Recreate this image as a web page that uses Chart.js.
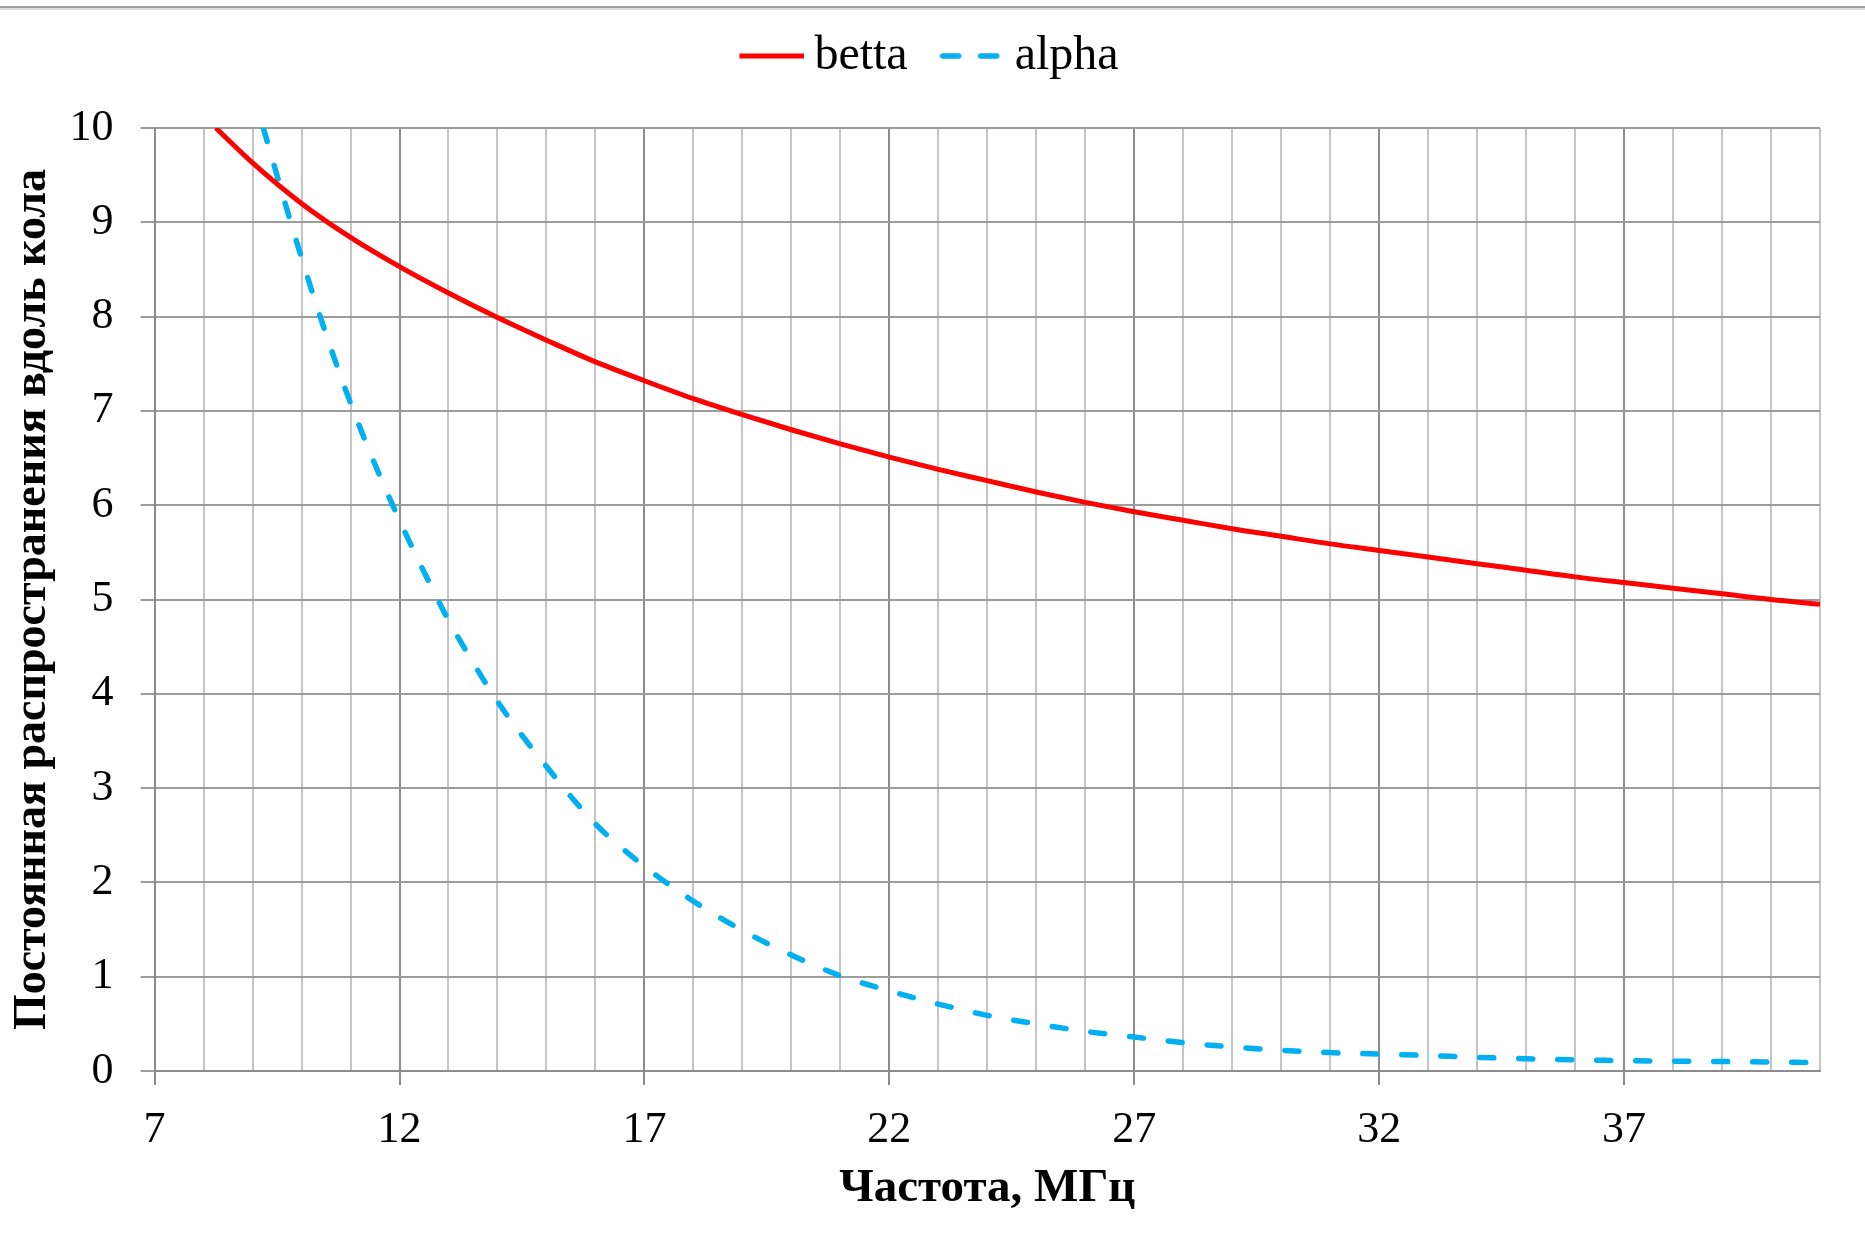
<!DOCTYPE html>
<html>
<head>
<meta charset="utf-8">
<title>betta / alpha</title>
<script src="https://cdn.jsdelivr.net/npm/chart.js@4.4.1/dist/chart.umd.min.js"></script>
<style>
    body { margin: 0; background: #fff; }
    #wrap { position: relative; width: 1865px; height: 1246px; }
    .rule { position: absolute; left: 0; top: 6px; width: 1865px; height: 2px; background: #a0a0a0; }
    .rule2 { position: absolute; left: 0; top: 8px; width: 1865px; height: 2px; background: #e0e0e0; }
</style>
</head>
<body>
<div id="wrap">
    <canvas id="chart" width="1865" height="1246"></canvas>
    <div class="rule"></div>
    <div class="rule2"></div>
</div>
<script>
// x axis: frequency, MHz
const X_MIN = 7;
const X_MAX = 41;
const Y_MIN = 0;
const Y_MAX = 10;

// betta (red, solid)
const freqBetta = [8.25, 9, 10, 11, 12, 13, 14, 15, 16, 17, 18, 19, 20, 21, 22, 23, 24, 25,
                   26, 27, 28, 29, 30, 31, 32, 33, 34, 35, 36, 37, 38, 39, 40, 41];
const betta = [10.0, 9.63, 9.20, 8.84, 8.53, 8.25, 7.99, 7.75, 7.52, 7.32, 7.13, 6.96, 6.80, 6.65, 6.51, 6.38, 6.26, 6.14,
               6.03, 5.93, 5.84, 5.75, 5.67, 5.59, 5.52, 5.45, 5.38, 5.31, 5.24, 5.18, 5.12, 5.06, 5.00, 4.95];

// alpha (blue, dashed)
const freqAlpha = [9.22, 9.78, 10.38, 11.06, 11.86, 12.78, 13, 14, 15, 16, 17, 18, 19, 20, 21, 22, 23, 24, 25,
                   26, 27, 28, 29, 30, 31, 32, 33, 34, 35, 37, 39, 41];
const alpha = [10, 9, 8, 7, 6, 5, 4.78, 3.92, 3.23, 2.62, 2.17, 1.80, 1.49, 1.23, 1.01, 0.85, 0.71, 0.59, 0.50,
               0.42, 0.36, 0.30, 0.255, 0.22, 0.195, 0.18, 0.165, 0.145, 0.13, 0.11, 0.10, 0.09];

const FONT = "'Liberation Serif', 'Times New Roman', serif";
const MAJOR = '#8c8c8c';
const MINOR = '#c4c4c4';
const HGRID = '#9c9c9c';
const LEGEND_SIZE = 48;
const SAMPLE_LEN = 65;   // legend line sample length
const SAMPLE_GAP = 10;   // gap between sample and text
const LEGEND_BOX = SAMPLE_LEN + SAMPLE_GAP - LEGEND_SIZE / 2;

const isMajor = v => (v - X_MIN) % 5 === 0;
const toPoints = (xs, ys) => xs.map((x, i) => ({ x: x, y: ys[i] }));

// legend sample drawn into a small canvas, so it sits close to its text
function lineSample(ds) {
    const w = 2 * (SAMPLE_LEN - LEGEND_BOX / 2);
    const c = document.createElement('canvas');
    c.width = w;
    c.height = 12;
    const g = c.getContext('2d');
    g.strokeStyle = ds.borderColor;
    g.lineWidth = ds.borderWidth;
    g.lineCap = ds.borderCapStyle || 'butt';
    g.setLineDash(ds.borderDash ? [16, 22] : []);
    g.beginPath();
    g.moveTo(w - SAMPLE_LEN + (ds.borderDash ? 3 : 0), 6);
    g.lineTo(w, 6);
    g.stroke();
    return c;
}

const legendLabels = chart =>
    Chart.defaults.plugins.legend.labels.generateLabels(chart).map(item => {
        item.pointStyle = lineSample(chart.data.datasets[item.datasetIndex]);
        return item;
    });

const ctx = document.getElementById('chart');

new Chart(ctx, {
    type: 'scatter',
    data: {
        datasets: [{
            label: 'betta',
            data: toPoints(freqBetta, betta),
            showLine: true,
            borderColor: '#ff0000',
            backgroundColor: '#ff0000',
            borderWidth: 5,
            pointRadius: 0,
            cubicInterpolationMode: 'monotone'
        }, {
            label: 'alpha',
            data: toPoints(freqAlpha, alpha),
            showLine: true,
            borderColor: '#00b0f0',
            backgroundColor: '#00b0f0',
            borderWidth: 5.5,
            borderDash: [14, 25],
            borderCapStyle: 'round',
            pointRadius: 0,
            cubicInterpolationMode: 'monotone'
        }]
    },
    options: {
        responsive: false,
        animation: false,
        layout: {
            padding: { top: 0, right: 45, bottom: 0, left: 38 }
        },
        plugins: {
            legend: {
                position: 'top',
                labels: {
                    usePointStyle: true,
                    pointStyleWidth: LEGEND_BOX,
                    padding: 32,
                    color: '#000',
                    font: { family: FONT, size: LEGEND_SIZE },
                    generateLabels: legendLabels
                }
            },
            // empty spacer between legend and plot
            title: {
                display: true,
                text: '',
                weight: 500,
                padding: { top: 26, bottom: 0 },
                font: { size: 10 }
            },
            tooltip: { enabled: false }
        },
        scales: {
            x: {
                type: 'linear',
                min: X_MIN,
                max: X_MAX,
                afterFit: scale => { scale.height = 175; },
                ticks: {
                    stepSize: 1,
                    autoSkip: false,
                    maxRotation: 0,
                    padding: 19,
                    color: '#000',
                    font: { family: FONT, size: 44 },
                    callback: v => isMajor(v) ? v : ''
                },
                grid: {
                    color: c => (c.tick && isMajor(c.tick.value)) ? MAJOR : MINOR,
                    tickColor: c => (c.tick && isMajor(c.tick.value)) ? MAJOR : 'rgba(0,0,0,0)',
                    lineWidth: 2,
                    tickLength: 14
                },
                border: { color: MAJOR, width: 2 },
                title: {
                    display: true,
                    text: 'Частота, МГц',
                    color: '#000',
                    font: { family: FONT, size: 47, weight: 'bold' },
                    padding: { top: 0, bottom: 29 }
                }
            },
            y: {
                min: Y_MIN,
                max: Y_MAX,
                afterFit: scale => { scale.width = 116.6; },
                ticks: {
                    stepSize: 1,
                    padding: 27,
                    color: '#000',
                    font: { family: FONT, size: 44 }
                },
                grid: {
                    color: HGRID,
                    tickColor: HGRID,
                    lineWidth: 2,
                    tickLength: 14
                },
                border: { color: MAJOR, width: 2 },
                title: {
                    display: true,
                    text: 'Постоянная распространения вдоль кола',
                    color: '#000',
                    font: { family: FONT, size: 46, weight: 'bold' },
                    padding: { top: -32, bottom: 0 }
                }
            }
        }
    }
});
</script>
</body>
</html>
